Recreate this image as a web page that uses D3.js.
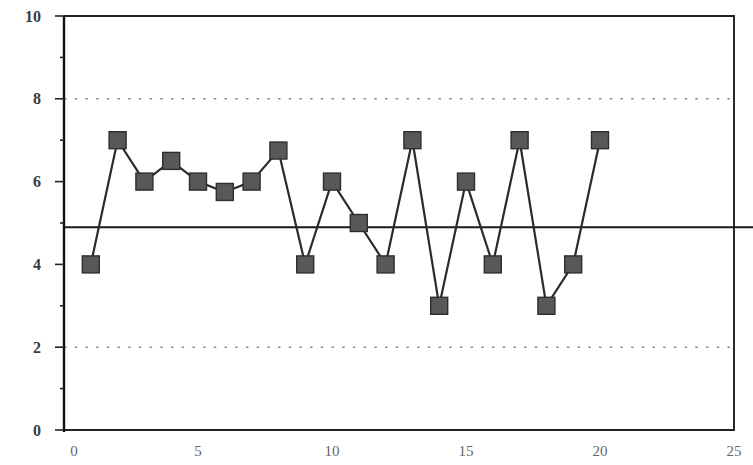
<!DOCTYPE html>
<html>
<head>
<meta charset="utf-8">
<script src="https://cdn.jsdelivr.net/npm/d3@7/dist/d3.min.js"></script>
<style>
  html, body { margin: 0; padding: 0; background: #fff; }
  svg { display: block; }
</style>
</head>
<body>
<svg id="chart" width="753" height="465"></svg>
<script>
// Run-chart samples: observation number and measured value
const samples = [1, 2, 3, 4, 5, 6, 7, 8, 9, 10, 11, 12, 13, 14, 15, 16, 17, 18, 19, 20];
const values = [4, 7, 6, 6.5, 6, 5.75, 6, 6.75, 4, 6, 5, 4, 7, 3, 6, 4, 7, 3, 4, 7];
const centerLine = [4.9];
const limitLines = [2, 8];
const xTicks = [0, 5, 10, 15, 20, 25];
const yTicks = [0, 1, 2, 3, 4, 5, 6, 7, 8, 9, 10];
const yLabels = [0, 2, 4, 6, 8, 10];

const svg = d3.select("#chart");
const W = 753;
const plotLeft = 64, plotRight = 734, plotTop = 16, plotBottom = 430;

const x = d3.scaleLinear().domain([0, 25]).range([plotLeft, plotRight]);
const y = d3.scaleLinear().domain([0, 10]).range([plotBottom, plotTop]);

// dotted limit lines
svg.append("g").selectAll("line").data(limitLines).join("line")
  .attr("x1", plotLeft).attr("x2", plotRight)
  .attr("y1", d => y(d)).attr("y2", d => y(d))
  .attr("stroke", "#8a8a8a").attr("stroke-width", 1.6)
  .attr("stroke-dasharray", "2.5,8.2");

// plot frame (top, right, bottom)
svg.append("path")
  .attr("d", `M${plotLeft},${plotTop}H${plotRight}V${plotBottom}H${plotLeft}`)
  .attr("fill", "none").attr("stroke", "#222").attr("stroke-width", 1.9);

// center line runs to the edge of the figure
svg.append("g").selectAll("line").data(centerLine).join("line")
  .attr("x1", plotLeft).attr("x2", W)
  .attr("y1", d => y(d)).attr("y2", d => y(d))
  .attr("stroke", "#1a1a1a").attr("stroke-width", 2);

// y axis: long ticks on even values, short on odd ones
const yAxis = svg.append("g").attr("transform", `translate(${plotLeft},0)`);
yAxis.append("line").attr("x1", 0).attr("x2", 0).attr("y1", plotTop).attr("y2", plotBottom + 2)
  .attr("stroke", "#111").attr("stroke-width", 2.4);
yAxis.selectAll("line.tk").data(yTicks).join("line").attr("class", "tk")
  .attr("x1", d => d % 2 === 0 ? -9 : -4).attr("x2", 0)
  .attr("y1", d => y(d)).attr("y2", d => y(d))
  .attr("stroke", "#222").attr("stroke-width", 1.6);
yAxis.selectAll("text").data(yLabels).join("text")
  .attr("x", -23).attr("y", d => y(d)).attr("dy", "0.35em")
  .attr("text-anchor", "end")
  .attr("font-family", "Liberation Serif, serif").attr("font-size", 16)
  .attr("font-weight", "bold").attr("fill", "#3a3a3a")
  .text(d => d);

// x axis labels
svg.append("g").selectAll("text").data(xTicks).join("text")
  .attr("x", d => x(d) + (d === 0 ? 10 : 0)).attr("y", plotBottom + 26)
  .attr("text-anchor", "middle")
  .attr("font-family", "Liberation Serif, serif").attr("font-size", 15)
  .attr("fill", "#666")
  .text(d => d);

// data line
const line = d3.line().x((d, i) => x(samples[i])).y(d => y(d));
svg.append("path").datum(values)
  .attr("d", line).attr("fill", "none")
  .attr("stroke", "#2b2b2b").attr("stroke-width", 2.2);

// square markers
const s = 17;
svg.append("g").selectAll("rect").data(values).join("rect")
  .attr("x", (d, i) => x(samples[i]) - s / 2)
  .attr("y", d => y(d) - s / 2)
  .attr("width", s).attr("height", s)
  .attr("fill", "#585858").attr("stroke", "#2e2e2e").attr("stroke-width", 1.4);
</script>
</body>
</html>
